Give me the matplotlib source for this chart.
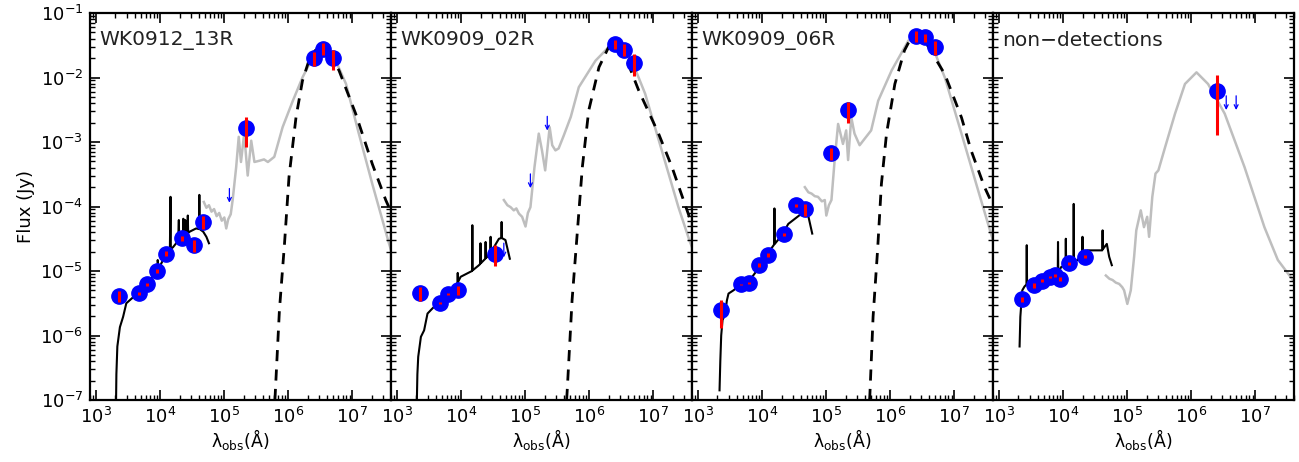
import numpy as np
import matplotlib
matplotlib.use('Agg')
import matplotlib.pyplot as plt
from matplotlib.ticker import LogLocator, NullFormatter

# panel names
names = ['WK0912_13R', 'WK0909_02R', 'WK0909_06R', 'non\u2212detections']

# photometry: wavelength (A), flux (Jy), 1-sigma error (Jy)
wav1 = [2271, 4686, 6165, 8931, 12500, 21900, 33680, 46180, 2.2e5, 2.5e6, 3.5e6, 5.0e6]
flux1 = [4.1e-6, 4.5e-6, 6.2e-6, 1.0e-5, 1.86e-5, 3.2e-5, 2.5e-5, 5.7e-5, 1.64e-3, 2.0e-2, 2.8e-2, 2.0e-2]
err1 = [8e-7, 3e-7, 4e-7, 8e-7, 1.5e-6, 2.5e-6, 5.5e-6, 1.3e-5, 8e-4, 5e-3, 6e-3, 7e-3]
ulw1 = [1.2e5]
ulf1 = [1.9e-4]

wav2 = [2271, 4686, 6165, 8931, 33680, 2.5e6, 3.5e6, 5.0e6]
flux2 = [4.5e-6, 3.2e-6, 4.4e-6, 5.1e-6, 1.86e-5, 3.3e-2, 2.7e-2, 1.7e-2]
err2 = [1.1e-6, 1e-7, 2e-7, 8e-7, 6.5e-6, 5.5e-3, 5.5e-3, 6.5e-3]
ulw2 = [46180, 1.2e5, 2.2e5]
ulf2 = [2.7e-5, 3.2e-4, 2.5e-3]

wav3 = [2271, 4686, 6165, 8931, 12500, 21900, 33680, 46180, 1.2e5, 2.2e5, 2.5e6, 3.5e6, 5.0e6]
flux3 = [2.45e-6, 6.2e-6, 6.6e-6, 1.23e-5, 1.78e-5, 3.7e-5, 1.05e-4, 9.1e-5, 6.7e-4, 3.1e-3, 4.4e-2, 4.2e-2, 2.95e-2]
err3 = [1.15e-6, 2e-7, 2e-7, 8e-7, 1.2e-6, 2e-6, 5e-6, 2e-5, 1.45e-4, 1.1e-3, 8e-3, 6e-3, 7e-3]
ulw3 = []
ulf3 = []

wav4 = [2271, 3551, 4686, 6165, 7481, 8931, 12500, 21900, 2.5e6]
flux4 = [3.65e-6, 6.0e-6, 7.1e-6, 8.1e-6, 8.6e-6, 7.6e-6, 1.32e-5, 1.66e-5, 6.1e-3]
err4 = [3e-7, 5e-7, 3e-7, 3e-7, 4e-7, 5e-7, 6e-7, 8e-7, 4.8e-3]
ulw4 = [3.5e6, 5.0e6]
ulf4 = [5.2e-3, 5.2e-3]

# axis ticks
xticks = [1e3, 1e4, 1e5, 1e6, 1e7]
yticks = [1e-7, 1e-6, 1e-5, 1e-4, 1e-3, 1e-2, 1e-1]

# model curves as log10(lambda/A), log10(F/Jy)
star1_logw = [3.31, 3.315, 3.33, 3.37, 3.42, 3.47, 3.55, 3.68, 3.81, 3.94, 3.96, 3.96, 3.97, 4.07, 4.15, 4.16,
              4.165, 4.20, 4.28, 4.29, 4.295, 4.33, 4.355, 4.36, 4.365, 4.385, 4.39, 4.395, 4.425, 4.43, 4.435,
              4.46, 4.56, 4.605, 4.61, 4.615, 4.67, 4.72, 4.76]
star1_logf = [-7.0, -6.6, -6.17, -5.87, -5.71, -5.50, -5.43, -5.32, -5.19, -5.01, -4.98, -4.83, -4.97, -4.78,
              -4.67, -3.85, -4.66, -4.63, -4.53, -4.21, -4.52, -4.50, -4.47, -4.19, -4.46, -4.45, -4.21, -4.44,
              -4.41, -4.14, -4.41, -4.39, -4.34, -4.35, -3.82, -4.35, -4.39, -4.47, -4.57]
gray1_logw = [4.68, 4.72, 4.76, 4.80, 4.84, 4.88, 4.92, 4.96, 5.00, 5.03, 5.06, 5.10, 5.13, 5.185, 5.225, 5.26,
              5.31, 5.365, 5.42, 5.47, 5.55, 5.62, 5.68, 5.78, 5.91, 6.07, 6.22, 6.38, 6.53, 6.69, 6.90, 7.10,
              7.31, 7.57, 7.61]
gray1_logf = [-3.93, -4.02, -3.98, -4.08, -4.04, -4.15, -4.10, -4.22, -4.17, -4.34, -4.20, -4.12, -3.90, -3.39,
              -2.92, -3.31, -2.87, -3.52, -2.98, -3.31, -3.29, -3.27, -3.31, -3.23, -2.77, -2.36, -2.00, -1.69,
              -1.53, -1.63, -2.10, -2.87, -3.65, -4.57, -4.70]
bb1_logw = [5.79, 5.86, 5.94, 6.01, 6.12, 6.22, 6.32, 6.42, 6.51, 6.60, 6.79, 7.05, 7.31, 7.52, 7.61]
bb1_logf = [-7.0, -5.61, -4.57, -3.54, -2.61, -2.05, -1.74, -1.58, -1.53, -1.57, -1.89, -2.56, -3.34, -3.90, -4.10]

star2_logw = [3.307, 3.315, 3.328, 3.37, 3.42, 3.473, 3.55, 3.655, 3.784, 3.914, 3.94, 3.945, 3.95, 3.99, 4.147,
              4.168, 4.173, 4.178, 4.276, 4.295, 4.30, 4.305, 4.375, 4.38, 4.385, 4.406, 4.453, 4.458, 4.463,
              4.51, 4.588, 4.625, 4.63, 4.635, 4.69, 4.758]
star2_logf = [-7.0, -6.6, -6.33, -6.02, -5.92, -5.66, -5.58, -5.48, -5.40, -5.22, -5.18, -5.03, -5.17, -5.09,
              -5.01, -5.0, -4.29, -4.99, -4.91, -4.89, -4.57, -4.88, -4.81, -4.55, -4.80, -4.78, -4.71, -4.47,
              -4.70, -4.63, -4.50, -4.49, -4.24, -4.49, -4.52, -4.81]
gray2_logw = [4.665, 4.72, 4.77, 4.82, 4.86, 4.90, 4.95, 5.003, 5.04, 5.08, 5.143, 5.21, 5.26, 5.31, 5.38, 5.42,
              5.47, 5.52, 5.60, 5.71, 5.835, 6.095, 6.30, 6.457, 6.663, 6.87, 7.13, 7.39, 7.57, 7.61]
gray2_logf = [-3.90, -3.98, -4.01, -4.06, -4.03, -4.11, -4.16, -4.31, -4.10, -4.01, -3.39, -2.87, -3.13, -3.44,
              -2.77, -3.05, -3.13, -3.10, -2.90, -2.61, -2.15, -1.74, -1.53, -1.48, -1.74, -2.25, -3.13, -4.01,
              -4.55, -4.65]
bb2_logw = [5.645, 5.653, 5.73, 5.81, 5.89, 5.99, 6.15, 6.30, 6.38, 6.50, 6.77, 7.08, 7.29, 7.49, 7.61]
bb2_logf = [-7.0, -6.87, -5.45, -4.42, -3.39, -2.51, -1.84, -1.53, -1.47, -1.52, -2.20, -2.87, -3.39, -3.96, -4.30]

star3_logw = [3.333, 3.345, 3.359, 3.38, 3.42, 3.447, 3.473, 3.55, 3.655, 3.784, 3.94, 4.07, 4.185, 4.19, 4.195,
              4.303, 4.406, 4.51, 4.614, 4.717, 4.78]
star3_logf = [-6.85, -6.4, -6.0, -5.76, -5.67, -5.46, -5.35, -5.30, -5.22, -5.17, -4.96, -4.75, -4.59, -4.03,
              -4.58, -4.45, -4.27, -4.19, -4.11, -4.14, -4.42]
gray3_logw = [4.665, 4.72, 4.77, 4.82, 4.87, 4.93, 4.976, 5.0, 5.04, 5.08, 5.13, 5.184, 5.26, 5.31, 5.34, 5.39,
              5.44, 5.52, 5.70, 5.81, 6.02, 6.28, 6.43, 6.64, 6.85, 7.11, 7.37, 7.57, 7.61]
gray3_logf = [-3.70, -3.78, -3.80, -3.84, -3.85, -3.92, -3.90, -4.14, -3.98, -3.90, -3.28, -2.72, -3.03, -2.82,
              -3.28, -2.62, -2.87, -3.05, -2.82, -2.36, -1.89, -1.43, -1.32, -1.48, -2.0, -2.87, -3.75, -4.42,
              -4.55]
bb3_logw = [5.675, 5.68, 5.73, 5.80, 5.86, 5.94, 6.07, 6.22, 6.33, 6.40, 6.50, 6.85, 7.11, 7.26, 7.47, 7.61]
bb3_logf = [-7.0, -6.92, -5.71, -4.68, -3.65, -2.87, -2.10, -1.58, -1.37, -1.33, -1.37, -1.95, -2.62, -3.13,
            -3.70, -4.00]

star4_logw = [3.318, 3.33, 3.36, 3.395, 3.425, 3.43, 3.435, 3.447, 3.55, 3.68, 3.81, 3.914, 3.918, 3.922, 3.966,
              4.035, 4.04, 4.045, 4.095, 4.158, 4.163, 4.168, 4.225, 4.295, 4.30, 4.305, 4.38, 4.458, 4.56,
              4.609, 4.614, 4.619, 4.68, 4.717, 4.758]
star4_logf = [-6.17, -5.71, -5.30, -5.24, -5.21, -4.60, -5.20, -5.19, -5.14, -5.09, -5.06, -5.04, -4.55, -5.03,
              -4.94, -4.91, -4.50, -4.90, -4.88, -4.86, -3.96, -4.85, -4.83, -4.72, -4.47, -4.71, -4.68, -4.68,
              -4.68, -4.68, -4.37, -4.66, -4.58, -4.78, -4.91]
gray4_logw = [4.665, 4.72, 4.77, 4.82, 4.873, 4.92, 4.95, 5.0, 5.054, 5.106, 5.14, 5.21, 5.26, 5.31, 5.34, 5.39,
              5.44, 5.485, 5.59, 5.745, 5.90, 6.08, 6.26, 6.52, 6.83, 7.14, 7.35, 7.585]
gray4_logf = [-5.07, -5.12, -5.14, -5.18, -5.20, -5.25, -5.30, -5.51, -5.30, -4.78, -4.37, -4.06, -4.32, -4.16,
              -4.47, -3.85, -3.49, -3.44, -3.08, -2.56, -2.10, -1.92, -2.10, -2.56, -3.39, -4.32, -4.83, -5.14]
bb4_logw = []
bb4_logf = []

panels = [
    (wav1, flux1, err1, ulw1, ulf1, star1_logw, star1_logf, gray1_logw, gray1_logf, bb1_logw, bb1_logf),
    (wav2, flux2, err2, ulw2, ulf2, star2_logw, star2_logf, gray2_logw, gray2_logf, bb2_logw, bb2_logf),
    (wav3, flux3, err3, ulw3, ulf3, star3_logw, star3_logf, gray3_logw, gray3_logf, bb3_logw, bb3_logf),
    (wav4, flux4, err4, ulw4, ulf4, star4_logw, star4_logf, gray4_logw, gray4_logf, bb4_logw, bb4_logf),
]

plt.rcParams['font.family'] = 'DejaVu Sans'
fig = plt.figure(figsize=(12.99, 4.62), dpi=100)

left, bottom, width, height = 90 / 1299, 62 / 462, 301 / 1299, 387 / 462

for i, (wav, flux, err, ulw, ulf, slw, slf, glw, glf, blw, blf) in enumerate(panels):
    ax = fig.add_axes([left + i * width, bottom, width, height])
    ax.set_xscale('log')
    ax.set_yscale('log')

    ax.plot(10 ** np.array(glw), 10 ** np.array(glf), color='#bebebe', lw=1.8, zorder=1)
    ax.plot(10 ** np.array(slw), 10 ** np.array(slf), color='black', lw=1.5, zorder=2)
    if len(blw):
        ax.plot(10 ** np.array(blw), 10 ** np.array(blf), color='black', lw=2.0,
                dashes=(4, 3), zorder=3)

    ax.plot(wav, flux, 'o', color='blue', ms=11, mec='blue', zorder=4)
    ax.errorbar(wav, flux, yerr=err, fmt='none', ecolor='red', elinewidth=2.2, capsize=0, zorder=5)

    # upper limits as small down arrows
    for w, f in zip(ulw, ulf):
        ax.annotate('', xy=(w, f * 10 ** -0.22), xytext=(w, f),
                    arrowprops=dict(arrowstyle='->', color='blue', lw=0.9, mutation_scale=7,
                                    shrinkA=0, shrinkB=0), zorder=6)

    ax.set_xlim(8e2, 4e7)
    ax.set_ylim(1e-7, 1e-1)
    ax.set_xticks(xticks)
    ax.set_yticks(yticks)
    ax.xaxis.set_minor_locator(LogLocator(base=10, subs=np.arange(2, 10), numticks=20))
    ax.yaxis.set_minor_locator(LogLocator(base=10, subs=np.arange(2, 10), numticks=20))
    ax.xaxis.set_minor_formatter(NullFormatter())
    ax.yaxis.set_minor_formatter(NullFormatter())
    ax.tick_params(which='both', direction='in', top=True, right=True, labelsize=13, pad=5)
    ax.tick_params(which='major', length=7, width=1.2)
    ax.tick_params(which='minor', length=3.5, width=1.0)
    for s in ax.spines.values():
        s.set_linewidth(1.6)

    if i > 0:
        ax.tick_params(axis='y', labelleft=False)
    else:
        ax.set_ylabel('Flux (Jy)', fontsize=13)

    ax.set_xlabel('\u03bb$_{\\rm obs}$(\u00c5)', fontsize=12.5, labelpad=0)
    ax.text(0.03, 0.93, names[i], transform=ax.transAxes, fontsize=14.5, va='center', ha='left',
            color='#222222')

fig.savefig('out.png', dpi=100)
